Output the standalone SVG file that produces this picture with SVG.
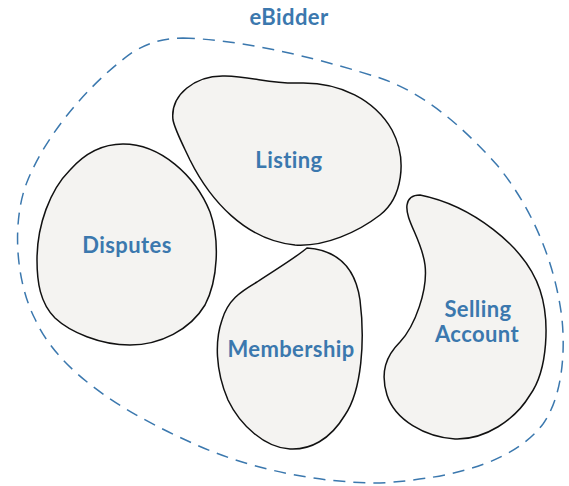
<svg xmlns="http://www.w3.org/2000/svg" width="569" height="486" viewBox="0 0 569 486">
<style>
.blob{fill:#f4f3f1;stroke:#111;stroke-width:1.5}
.lbl{font-family:Lato,"Open Sans","Liberation Sans",sans-serif;font-weight:700;font-size:22px;fill:#3b78ae;text-anchor:middle;letter-spacing:0.4px}
.ctx{fill:none;stroke:#3b78ae;stroke-width:1.5;stroke-dasharray:12 8}
</style>
<g id="eBidder">
<path class="ctx" d="M183,38 C250,40 330,62 380,78 C430,95 470,135 497,165 C530,205 555,260 562,319 C566,360 560,400 543,424 C515,460 460,478 380,483 C320,483 250,470 190,442 C130,415 60,375 35,319 C15,280 12,220 27,182 C50,125 100,75 133,52 C150,42 165,38 183,38 Z"/>
<text class="lbl" x="289" y="25" font-size="20.5">eBidder</text>
</g>
<g id="listing">
<path class="blob" d="M173,120 C170,95 195,75 225,76 C255,77 270,84 300,83 C340,82 375,100 392,130 C408,160 402,198 380,215 C358,232 325,247 295,245 C245,240 210,200 190,160 C182,143 175,130 173,120 Z"/>
<text class="lbl" x="289" y="168">Listing</text>
</g>
<g id="disputes">
<path class="blob" d="M123,144 C160,144 195,175 210,212 C220,240 218,280 205,305 C190,330 160,345 130,345 C100,345 70,332 55,318 C40,303 37,282 37,260 C37,225 50,190 70,170 C85,153 103,144 123,144 Z"/>
<text class="lbl" x="127" y="253">Disputes</text>
</g>
<g id="membership">
<path class="blob" d="M307,248 C335,250 355,265 360,300 C365,340 362,390 345,415 C330,440 310,450 290,449 C265,448 240,425 228,400 C215,370 215,340 222,320 C228,300 240,292 257,282 C275,270 295,258 307,248 Z"/>
<text class="lbl" x="291" y="357">Membership</text>
</g>
<g id="selling-account">
<path class="blob" d="M420,195 C470,205 525,245 540,290 C550,320 548,370 530,395 C515,420 485,440 455,439 C425,437 395,420 387,395 C380,372 386,356 400,342 C415,326 428,290 425,265 C422,240 405,220 407,205 C408,198 413,195 420,195 Z"/>
<text class="lbl" x="478" y="317">Selling</text>
<text class="lbl" x="477" y="342">Account</text>
</g>
<g id="connectors"/>
</svg>
